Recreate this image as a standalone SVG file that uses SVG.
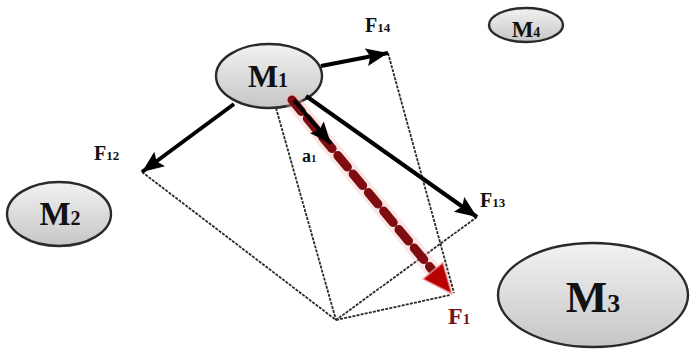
<svg xmlns="http://www.w3.org/2000/svg" width="690" height="356" viewBox="0 0 690 356">
<defs>
<linearGradient id="g" x1="0" y1="0" x2="0" y2="1">
<stop offset="0" stop-color="#f2f2f2"/>
<stop offset="1" stop-color="#c6c6c6"/>
</linearGradient>
<marker id="ah" markerUnits="userSpaceOnUse" markerWidth="24" markerHeight="20" refX="22" refY="9" orient="auto">
<path d="M0,0 L22,9 L0,18 L4,9 z" fill="#000"/>
</marker>
</defs>
<style>
.node{fill:url(#g);stroke:#2a2a2a;stroke-width:2.4}
.lab{font-family:"Liberation Serif",serif;font-weight:bold;fill:#111}
.dot{stroke:#2a2a2a;stroke-width:1.8;fill:none;stroke-dasharray:3 1.2}
.arr{stroke:#000;stroke-width:4;fill:none;marker-end:url(#ah)}
.fl{font-family:"Liberation Serif",serif;font-weight:bold;fill:#111}
</style>
<rect width="690" height="356" fill="#fff"/>
<g id="M1"><ellipse class="node" cx="269" cy="76" rx="53" ry="32"/><text class="lab" x="268" y="87" text-anchor="middle" font-size="32">M<tspan font-size="20">1</tspan></text></g>
<g id="M2"><ellipse class="node" cx="59" cy="214" rx="52" ry="32"/><text class="lab" x="60" y="225" text-anchor="middle" font-size="33">M<tspan font-size="20">2</tspan></text></g>
<g id="M3"><ellipse class="node" cx="593" cy="295" rx="95" ry="52"/><text class="lab" x="593" y="312" text-anchor="middle" font-size="44">M<tspan font-size="26">3</tspan></text></g>
<g id="M4"><ellipse class="node" cx="526" cy="25" rx="37" ry="17"/><text class="lab" x="526" y="37" text-anchor="middle" font-size="23">M<tspan font-size="14">4</tspan></text></g>
<g id="connectors">
<path class="dot" d="M388,53 L454,293"/>
<path class="dot" d="M276,108 L336,320"/>
<path class="dot" d="M142,172 L336,320"/>
<path class="dot" d="M477,217 L336,320"/>
<path class="dot" d="M336,320 L450,295"/>
<line x1="292" y1="100" x2="434" y2="272" stroke="#f4b8b8" stroke-width="16" stroke-opacity="0.35" stroke-linecap="round"/>
<line x1="292" y1="100" x2="434" y2="272" stroke="#7e0c10" stroke-width="9" stroke-dasharray="15 9" stroke-linecap="round"/>
<path d="M452,294 L422.9,279.1 L442.9,262.5 z" fill="#b80000" stroke="#f4b8b8" stroke-width="2" stroke-opacity="0.6"/>
<line class="arr" x1="321" y1="66" x2="388" y2="53"/>
<line class="arr" x1="234" y1="104" x2="142" y2="172"/>
<line class="arr" x1="306" y1="96" x2="477" y2="217"/>
<line class="arr" x1="294" y1="100" x2="331" y2="144"/>
<text class="fl" x="365" y="32" font-size="20">F<tspan font-size="13">14</tspan></text>
<text class="fl" x="94" y="160" font-size="20">F<tspan font-size="13">12</tspan></text>
<text class="fl" x="480" y="207" font-size="20">F<tspan font-size="13">13</tspan></text>
<text class="fl" x="302" y="162" font-size="18">a<tspan font-size="11">1</tspan></text>
<text class="fl" x="448" y="324" font-size="24" style="fill:#7a1212">F<tspan font-size="15">1</tspan></text>
</g>
</svg>
